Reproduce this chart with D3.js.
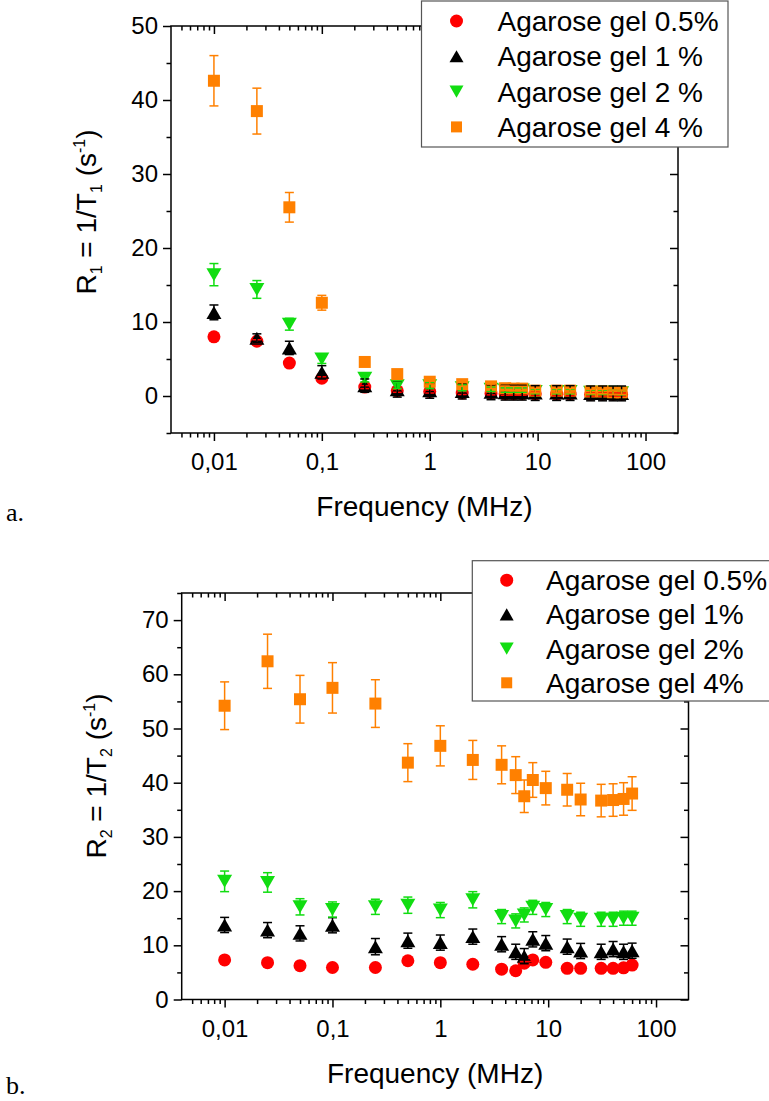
<!DOCTYPE html>
<html>
<head>
<meta charset="utf-8">
<script src="https://cdn.jsdelivr.net/npm/d3@7"></script>
<style>
body{margin:0;background:#fff;}
svg{display:block;}
</style>
</head>
<body>
<svg id="chart" width="769" height="1101"></svg>
<script>
// frequencies (MHz), shared by both panels
const freqs = [0.01, 0.025, 0.05, 0.1, 0.25, 0.5, 1, 2, 3.7, 5, 6, 7.2, 9.5, 15, 20, 31, 40, 50, 60];

// panel a: R1 (s^-1)
const r1Gel05 = [8.0, 7.4, 4.45, 2.4, 1.2, 0.7, 0.6, 0.4, 0.35, 0.3, 0.3, 0.3, 0.3, 0.25, 0.25, 0.2, 0.2, 0.2, 0.2];
const r1Gel1 = [11.3, 7.8, 6.5, 3.2, 1.4, 0.85, 0.7, 0.6, 0.5, 0.45, 0.45, 0.45, 0.4, 0.4, 0.4, 0.35, 0.35, 0.35, 0.35];
const r1Gel2 = [16.4, 14.4, 9.7, 5.0, 2.4, 1.4, 1.4, 1.1, 0.9, 0.8, 0.8, 0.8, 0.6, 0.6, 0.6, 0.5, 0.5, 0.5, 0.45];
const r1Gel4 = [42.6, 38.5, 25.5, 12.6, 4.6, 2.96, 1.93, 1.6, 1.3, 1.05, 1.0, 1.0, 0.72, 0.72, 0.72, 0.6, 0.6, 0.5, 0.5];
const r1Err05 = [0.2, 0.2, 0.2, 0.2, 0.2, 0.2, 0.2, 0.2, 0.2, 0.2, 0.2, 0.2, 0.2, 0.2, 0.2, 0.2, 0.2, 0.2, 0.2];
const r1Err1 = [1.0, 0.6, 0.9, 0.9, 0.9, 1.0, 1.0, 1.0, 1.0, 1.0, 1.0, 1.0, 1.0, 1.0, 1.0, 1.0, 1.0, 1.0, 1.0];
const r1Err2 = [1.5, 1.2, 0.8, 0.6, 0.5, 0.4, 0.4, 0.4, 0.3, 0.3, 0.3, 0.3, 0.3, 0.3, 0.3, 0.3, 0.3, 0.3, 0.3];
const r1Err4 = [3.4, 3.1, 2.0, 1.0, 0.3, 0.3, 0.3, 0.3, 0.3, 0.3, 0.3, 0.3, 0.3, 0.3, 0.3, 0.3, 0.3, 0.3, 0.3];

// panel b: R2 (s^-1)
const r2Gel05 = [7.3, 6.8, 6.25, 5.9, 5.9, 7.15, 6.8, 6.5, 5.6, 5.3, 6.7, 7.3, 6.85, 5.75, 5.75, 5.75, 5.75, 5.85, 6.35];
const r2Gel1 = [13.75, 12.8, 12.2, 13.7, 9.75, 10.85, 10.5, 11.6, 10.2, 8.8, 8.0, 11.1, 10.4, 9.75, 8.95, 8.8, 9.3, 8.8, 9.0];
const r2Gel2 = [21.8, 21.6, 17.1, 16.6, 17.1, 17.4, 16.5, 18.4, 15.3, 14.5, 15.6, 17.0, 16.6, 15.3, 14.8, 14.8, 14.8, 15.0, 15.0];
const r2Gel4 = [54.2, 62.4, 55.4, 57.5, 54.6, 43.7, 46.8, 44.2, 43.3, 41.4, 37.5, 40.5, 39.0, 38.7, 36.9, 36.7, 36.8, 37.0, 38.0];
const r2Err05 = [0.3, 0.3, 0.3, 0.3, 0.3, 0.3, 0.3, 0.3, 0.3, 0.3, 0.3, 0.3, 0.3, 0.3, 0.3, 0.3, 0.3, 0.3, 0.3];
const r2Err1 = [1.4, 1.4, 1.4, 1.4, 1.5, 1.4, 1.4, 1.4, 1.4, 1.4, 1.4, 1.4, 1.4, 1.4, 1.4, 1.4, 1.4, 1.4, 1.4];
const r2Err2 = [1.9, 1.8, 1.5, 1.4, 1.4, 1.5, 1.4, 1.5, 1.3, 1.3, 1.3, 1.3, 1.3, 1.3, 1.3, 1.3, 1.3, 1.3, 1.3];
const r2Err4 = [4.4, 5.0, 4.4, 4.65, 4.4, 3.5, 3.7, 3.6, 3.5, 3.4, 3.0, 3.2, 3.1, 3.0, 3.0, 3.0, 3.0, 3.0, 3.1];

const legendA = ['Agarose gel 0.5%', 'Agarose gel 1 %', 'Agarose gel 2 %', 'Agarose gel 4 %'];
const legendB = ['Agarose gel 0.5%', 'Agarose gel 1%', 'Agarose gel 2%', 'Agarose gel 4%'];

const xMajor = [0.01, 0.1, 1, 10, 100];
const yMajorA = [0, 10, 20, 30, 40, 50];
const yMajorB = [0, 10, 20, 30, 40, 50, 60, 70];

const colors = ['#ff0000', '#000000', '#11dd11', '#ff8000'];
const shapes = ['circle', 'up', 'down', 'square'];
const font = 'Liberation Sans, Arial, sans-serif';

const svg = d3.select('#chart');

function markerPath(shape, s){
	if(shape === 'circle'){
		return d3.symbol(d3.symbolCircle, Math.PI*s*s/4)();
	}
	if(shape === 'square'){
		return d3.symbol(d3.symbolSquare, s*s)();
	}
	let h = s*Math.sqrt(3)/2;
	if(shape === 'up'){
		return `M0,${-h/2}L${s/2},${h/2}L${-s/2},${h/2}Z`;
	}
	return `M0,${h/2}L${s/2},${-h/2}L${-s/2},${-h/2}Z`;
}

function drawPanel(opt){
	let g = svg.append('g');
	let x = d3.scaleLog().domain([0.004, 200]).range([opt.left, opt.right]);
	let y = d3.scaleLinear().domain(opt.yDomain).range([opt.bottom, opt.top]);

	let xMinor = [];
	for(let e=-3; e<=2; e++){
		for(let k=2; k<=9; k++){
			let v = k*Math.pow(10, e);
			if(v > 0.004 && v < 200) xMinor.push(+v.toPrecision(3));
		}
	}
	let yMinor = [];
	for(let v=opt.yDomain[0]; v<=opt.yDomain[1]; v+=5){
		if(v % 10 !== 0) yMinor.push(v);
	}

	let fmt = d => String(d).replace('.', ',');

	// bottom axis (outward ticks, with labels)
	g.append('g').attr('transform', `translate(0,${opt.bottom})`)
		.call(d3.axisBottom(x).tickValues(xMajor).tickSize(8).tickPadding(12).tickFormat(fmt));
	g.append('g').attr('transform', `translate(0,${opt.bottom})`)
		.call(d3.axisBottom(x).tickValues(xMinor).tickSize(4.5).tickFormat(''));
	// top axis (inward ticks)
	g.append('g').attr('transform', `translate(0,${opt.top})`)
		.call(d3.axisBottom(x).tickValues(xMajor).tickSize(8).tickFormat(''));
	g.append('g').attr('transform', `translate(0,${opt.top})`)
		.call(d3.axisBottom(x).tickValues(xMinor).tickSize(4.5).tickFormat(''));
	// left axis (outward ticks, with labels)
	g.append('g').attr('transform', `translate(${opt.left},0)`)
		.call(d3.axisLeft(y).tickValues(opt.yMajor).tickSize(8).tickPadding(5).tickFormat(d3.format('d')));
	g.append('g').attr('transform', `translate(${opt.left},0)`)
		.call(d3.axisLeft(y).tickValues(yMinor).tickSize(4.5).tickFormat(''));
	// right axis (inward ticks)
	g.append('g').attr('transform', `translate(${opt.right},0)`)
		.call(d3.axisLeft(y).tickValues(opt.yMajor).tickSize(8).tickFormat(''));
	g.append('g').attr('transform', `translate(${opt.right},0)`)
		.call(d3.axisLeft(y).tickValues(yMinor).tickSize(4.5).tickFormat(''));

	g.selectAll('.domain').remove();
	g.selectAll('.tick line').attr('stroke', '#000').attr('stroke-width', 1.5);
	g.selectAll('.tick text').attr('font-family', font).attr('font-size', 24).attr('fill', '#000');

	g.append('rect')
		.attr('x', opt.left).attr('y', opt.top)
		.attr('width', opt.right-opt.left).attr('height', opt.bottom-opt.top)
		.attr('fill', 'none').attr('stroke', '#000').attr('stroke-width', 1.5);

	// markers
	let plot = g.append('g');
	opt.series.forEach((vals, i) => {
		plot.append('g').selectAll('path')
			.data(vals.map((v, j) => ({f: freqs[j], v: v})))
			.join('path')
			.attr('d', markerPath(shapes[i], opt.markSize[i]))
			.attr('transform', d => `translate(${x(d.f)},${y(d.v)})`)
			.attr('fill', colors[i]);
	});
	// error bars on top of markers
	opt.series.forEach((vals, i) => {
		let data = vals.map((v, j) => ({f: freqs[j], v: v, e: opt.errors[i][j]}));
		let eg = plot.append('g').attr('stroke', colors[i]).attr('stroke-width', 1.5);
		eg.selectAll('.bar').data(data).join('line')
			.attr('x1', d => x(d.f)).attr('x2', d => x(d.f))
			.attr('y1', d => y(d.v - d.e)).attr('y2', d => y(d.v + d.e));
		eg.selectAll('.capt').data(data).join('line')
			.attr('x1', d => x(d.f)-4.5).attr('x2', d => x(d.f)+4.5)
			.attr('y1', d => y(d.v + d.e)).attr('y2', d => y(d.v + d.e));
		eg.selectAll('.capb').data(data).join('line')
			.attr('x1', d => x(d.f)-4.5).attr('x2', d => x(d.f)+4.5)
			.attr('y1', d => y(d.v - d.e)).attr('y2', d => y(d.v - d.e));
	});

	// axis titles
	g.append('text')
		.attr('x', (opt.left+opt.right)/2).attr('y', opt.bottom+83)
		.attr('text-anchor', 'middle')
		.attr('font-family', font).attr('font-size', 28)
		.text('Frequency (MHz)');

	let yt = g.append('text')
		.attr('transform', `translate(${opt.yTitleX},${opt.yTitleY}) rotate(-90)`)
		.attr('text-anchor', 'middle')
		.attr('font-family', font).attr('font-size', 28);
	yt.append('tspan').text('R');
	yt.append('tspan').attr('font-size', 16).attr('dy', 6).text(opt.idx);
	yt.append('tspan').attr('dy', -6).text(' = 1/T');
	yt.append('tspan').attr('font-size', 16).attr('dy', 6).text(opt.idx);
	yt.append('tspan').attr('dy', -6).text(' (s');
	yt.append('tspan').attr('font-size', 16).attr('dy', -11).text('-1');
	yt.append('tspan').attr('dy', 11).text(')');

	// legend
	let lg = svg.append('g');
	lg.append('rect')
		.attr('x', opt.legend.x).attr('y', opt.legend.y)
		.attr('width', opt.legend.w).attr('height', opt.legend.h)
		.attr('fill', '#fff').attr('stroke', '#555').attr('stroke-width', 1.2);
	opt.legend.labels.forEach((t, i) => {
		let cy = opt.legend.y + opt.legend.row0 + i*opt.legend.step;
		lg.append('path')
			.attr('d', markerPath(shapes[i], [13, 14, 14, 11][i]))
			.attr('transform', `translate(${opt.legend.x+opt.legend.symX},${cy})`)
			.attr('fill', colors[i]);
		lg.append('text')
			.attr('x', opt.legend.x+opt.legend.textX).attr('y', cy)
			.attr('dy', '0.36em')
			.attr('font-family', font).attr('font-size', 28)
			.text(t);
	});

	svg.append('text')
		.attr('x', 6).attr('y', opt.labelY)
		.attr('font-family', 'Liberation Serif, DejaVu Serif, serif').attr('font-size', 26)
		.text(opt.label);
}

drawPanel({
	left: 171, right: 678, top: 26, bottom: 433,
	yDomain: [-5, 50], yMajor: yMajorA,
	series: [r1Gel05, r1Gel1, r1Gel2, r1Gel4],
	errors: [r1Err05, r1Err1, r1Err2, r1Err4],
	markSize: [13, 15, 15, 12],
	idx: '1', yTitleX: 96, yTitleY: 212,
	legend: {x: 421.5, y: 1, w: 306.5, h: 146, row0: 20, step: 35.3, symX: 35, textX: 76, labels: legendA},
	label: 'a.', labelY: 521
});

drawPanel({
	left: 181.7, right: 688.5, top: 593, bottom: 999.5,
	yDomain: [0, 75], yMajor: yMajorB,
	series: [r2Gel05, r2Gel1, r2Gel2, r2Gel4],
	errors: [r2Err05, r2Err1, r2Err2, r2Err4],
	markSize: [13, 15, 15, 12],
	idx: '2', yTitleX: 106, yTitleY: 776,
	legend: {x: 472.3, y: 560.7, w: 305, h: 140.3, row0: 19.5, step: 34.2, symX: 34.4, textX: 73.7, labels: legendB},
	label: 'b.', labelY: 1094
});
</script>
</body>
</html>
